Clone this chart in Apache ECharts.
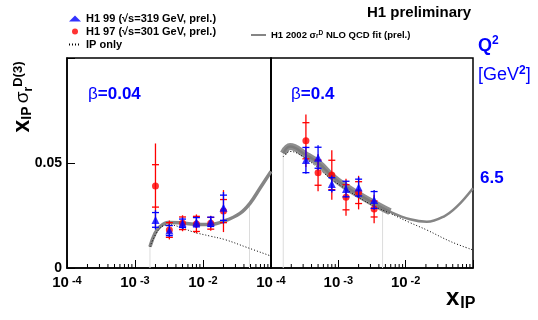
<!DOCTYPE html>
<html>
<head>
<meta charset="UTF-8">
<title>H1 sigma_r D(3)</title>
<script src="https://cdn.jsdelivr.net/npm/echarts@6/dist/echarts.min.js"></script>
<style>
html,body{margin:0;padding:0;background:#fff;}
#main{width:538px;height:320px;}
</style>
</head>
<body>
<div id="main"></div>
<script>
// beta = 0.04 panel
var xBeta004 = [0.002, 0.0032, 0.005, 0.008, 0.013, 0.02];
var h99Beta004 = [0.0229, 0.0178, 0.0213, 0.0218, 0.0220, 0.0287];
var h99Beta004Stat = [0.0035, 0.0024, 0.0020, 0.0022, 0.0022, 0.0060];
var h99Beta004Tot = [0.0046, 0.0030, 0.0028, 0.0028, 0.0028, 0.0075];
var h97Beta004 = [0.0391, 0.0181, 0.0213, 0.0210, 0.0213, 0.0271];
var h97Beta004Stat = [0.0101, 0.0035, 0.0030, 0.0036, 0.0028, 0.0055];
var h97Beta004Tot = [0.0202, 0.0045, 0.0038, 0.0045, 0.0036, 0.0100];
var fitBeta004X = [0.00166, 0.00197, 0.00233, 0.00306, 0.00459, 0.00762, 0.0127, 0.0211, 0.035, 0.0491, 0.0689, 0.1];
var fitBeta004Y = [0.0101, 0.0165, 0.0197, 0.0217, 0.0215, 0.0208, 0.0207, 0.0225, 0.026, 0.0308, 0.038, 0.046];
var ipBeta004X = [0.00166, 0.00233, 0.00326, 0.00459, 0.0071, 0.0127, 0.0211, 0.0442, 0.1];
var ipBeta004Y = [0.0101, 0.019, 0.0205, 0.0195, 0.0172, 0.0152, 0.0135, 0.0098, 0.0057];
var limBeta004X = [0.00166, 0.0483];
var limBeta004Y = [0.0101, 0.030];

// beta = 0.4 panel
var xBeta04 = [0.00033, 0.0005, 0.0008, 0.0013, 0.002, 0.0034];
var h99Beta04 = [0.0514, 0.0525, 0.0400, 0.0376, 0.0383, 0.0324];
var h99Beta04Stat = [0.0060, 0.0050, 0.0030, 0.0037, 0.0040, 0.0040];
var h99Beta04Tot = [0.0065, 0.0060, 0.0040, 0.0040, 0.0050, 0.0047];
var h97Beta04 = [0.0606, 0.0454, 0.0443, 0.0337, 0.0359, 0.0281];
var h97Beta04Stat = [0.0086, 0.0060, 0.0070, 0.0060, 0.0052, 0.0038];
var h97Beta04Tot = [0.0125, 0.0088, 0.0118, 0.0088, 0.0080, 0.0068];
var fitBeta04X = [0.000152, 0.000192, 0.000331, 0.000517, 0.000815, 0.0013, 0.00205, 0.00339, 0.00586, 0.0116, 0.0206, 0.0363, 0.0575, 0.1];
var fitBeta04Y = [0.0546, 0.0578, 0.0538, 0.0498, 0.0435, 0.0387, 0.0348, 0.0308, 0.0268, 0.0232, 0.0220, 0.0244, 0.0292, 0.038];
var ipBeta04X = [0.000152, 0.000192, 0.000331, 0.000815, 0.00205, 0.00339, 0.00586, 0.0116, 0.0206, 0.0473, 0.1];
var ipBeta04Y = [0.053, 0.0555, 0.052, 0.042, 0.0335, 0.0295, 0.026, 0.0216, 0.0181, 0.0125, 0.0086];
var limBeta04X = [0.000152, 0.00454];
var limBeta04Y = [0.0546, 0.028];

var minorTickVals = [2e-4, 3e-4, 4e-4, 5e-4, 6e-4, 7e-4, 8e-4, 9e-4,
  2e-3, 3e-3, 4e-3, 5e-3, 6e-3, 7e-3, 8e-3, 9e-3,
  2e-2, 3e-2, 4e-2, 5e-2, 6e-2, 7e-2, 8e-2, 9e-2];
var xLabelExps = [-4, -3, -2];
var yTicks = [0, 0.05];

var N99 = 'H1 99 (√s=319 GeV, prel.)';
var N97 = 'H1 97 (√s=301 GeV, prel.)';
var NIP = 'IP only';
var NFIT = 'H1 2002 fit';

var FONT = '"Liberation Sans", Arial, sans-serif';
var BLUE = '#0000ff';
var RED = '#ff0000';

function zip(a, b) {
  return a.map(function (v, i) { return [v, b[i]]; });
}
function zip4(x, y, s, t) {
  return x.map(function (v, i) { return [v, y[i], s[i], t[i]]; });
}

function errRender(color) {
  return function (params, api) {
    var x = api.value(0), y = api.value(1), s = api.value(2), t = api.value(3);
    var top = api.coord([x, y + t]), bot = api.coord([x, y - t]);
    var sTop = api.coord([x, y + s]), sBot = api.coord([x, y - s]);
    var st = { stroke: color, lineWidth: 1.3 };
    return {
      type: 'group',
      children: [
        { type: 'line', shape: { x1: top[0], y1: top[1], x2: bot[0], y2: bot[1] }, style: st },
        { type: 'line', shape: { x1: sTop[0] - 3.5, y1: sTop[1], x2: sTop[0] + 3.5, y2: sTop[1] }, style: st },
        { type: 'line', shape: { x1: sBot[0] - 3.5, y1: sBot[1], x2: sBot[0] + 3.5, y2: sBot[1] }, style: st }
      ]
    };
  };
}

function limRender(params, api) {
  var a = api.coord([api.value(0), 0]), b = api.coord([api.value(0), api.value(1)]);
  return { type: 'line', shape: { x1: a[0], y1: a[1], x2: b[0], y2: b[1] }, style: { stroke: '#dcdcdc', lineWidth: 1 } };
}

function minorRender(params, api) {
  var p = api.coord([api.value(0), 0]);
  return { type: 'line', shape: { x1: p[0], y1: p[1], x2: p[0], y2: p[1] - 4 }, style: { stroke: '#000', lineWidth: 1 } };
}

function expLabel(v) {
  var e = Math.round(Math.log10(v));
  if (xLabelExps.indexOf(e) < 0) return '';
  return '{b|10}{e|' + e + '}';
}

var xLabelRich = {
  b: { fontSize: 15, fontWeight: 'bold', fontFamily: FONT, color: '#000', lineHeight: 15, padding: [7, 0, 0, 0], verticalAlign: 'bottom' },
  e: { fontSize: 11, fontWeight: 'bold', fontFamily: FONT, color: '#000', lineHeight: 11, padding: [0, 0, 0, 3], verticalAlign: 'top' }
};

function makeX(idx) {
  return {
    type: 'log', logBase: 10, gridIndex: idx, min: 1e-4, max: 0.1,
    axisLine: { show: true, lineStyle: { color: '#000', width: 1.5 } },
    axisTick: { show: true, inside: true, length: 8, lineStyle: { color: '#000', width: 1 } },
    splitLine: { show: false },
    axisLabel: { formatter: expLabel, rich: xLabelRich, margin: 7 }
  };
}

function makeY(idx, labels) {
  return {
    type: 'value', gridIndex: idx, min: 0, max: 0.1, interval: 0.05,
    axisLine: { show: true, lineStyle: { color: '#000', width: 1.5 } },
    axisTick: { show: labels, inside: true, length: 8, lineStyle: { color: '#000', width: 1 } },
    splitLine: { show: false },
    axisLabel: {
      show: labels, margin: 5,
      fontSize: 14, fontWeight: 'bold', fontFamily: FONT, color: '#000',
      formatter: function (v) {
        if (v === yTicks[0]) return '0';
        return yTicks.indexOf(v) >= 0 ? v.toFixed(2) : '';
      }
    }
  };
}

function panelSeries(idx, d) {
  return [
    { type: 'custom', xAxisIndex: idx, yAxisIndex: idx, renderItem: limRender, data: zip(d.limX, d.limY), silent: true, z: 1 },
    { type: 'custom', xAxisIndex: idx, yAxisIndex: idx, renderItem: minorRender, data: minorTickVals.map(function (v) { return [v, 0]; }), silent: true, z: 1 },
    { name: NFIT, type: 'line', xAxisIndex: idx, yAxisIndex: idx, data: zip(d.fitX, d.fitY), smooth: 0.4, showSymbol: false, symbol: 'none',
      itemStyle: { color: '#858585' }, lineStyle: { color: '#858585', width: d.fitWidth }, z: 2 },
    d.band ? { type: 'line', xAxisIndex: idx, yAxisIndex: idx, data: zip(d.fitX.slice(0, 9), d.fitY.slice(0, 9)), smooth: 0.4, showSymbol: false, symbol: 'none',
      lineStyle: { color: '#7a7a7a', width: 7, opacity: 0.85 }, z: 2, silent: true } : null,
    { name: NIP, type: 'line', xAxisIndex: idx, yAxisIndex: idx, data: zip(d.ipX, d.ipY), smooth: 0.4, showSymbol: false, symbol: 'none',
      itemStyle: { color: '#000' }, lineStyle: { color: '#000', width: 1, type: [1, 2] }, z: 3 },
    { type: 'custom', xAxisIndex: idx, yAxisIndex: idx, renderItem: errRender(RED), data: zip4(d.x, d.r, d.rs, d.rt), silent: true, z: 4 },
    { name: N97, type: 'scatter', xAxisIndex: idx, yAxisIndex: idx, data: zip(d.x, d.r), symbol: 'circle', symbolSize: 7,
      itemStyle: { color: RED }, z: 5 },
    { type: 'custom', xAxisIndex: idx, yAxisIndex: idx, renderItem: errRender(BLUE), data: zip4(d.x, d.b, d.bs, d.bt), silent: true, z: 6 },
    { name: N99, type: 'scatter', xAxisIndex: idx, yAxisIndex: idx, data: zip(d.x, d.b), symbol: 'triangle', symbolSize: 8,
      itemStyle: { color: BLUE }, z: 7 }
  ].filter(Boolean);
}

var series = panelSeries(0, {
  x: xBeta004, b: h99Beta004, bs: h99Beta004Stat, bt: h99Beta004Tot,
  r: h97Beta004, rs: h97Beta004Stat, rt: h97Beta004Tot,
  fitX: fitBeta004X, fitY: fitBeta004Y, ipX: ipBeta004X, ipY: ipBeta004Y,
  limX: limBeta004X, limY: limBeta004Y, fitWidth: 3.5, band: false
}).concat(panelSeries(1, {
  x: xBeta04, b: h99Beta04, bs: h99Beta04Stat, bt: h99Beta04Tot,
  r: h97Beta04, rs: h97Beta04Stat, rt: h97Beta04Tot,
  fitX: fitBeta04X, fitY: fitBeta04Y, ipX: ipBeta04X, ipY: ipBeta04Y,
  limX: limBeta04X, limY: limBeta04Y, fitWidth: 2.5, band: true
}));

var chart = echarts.init(document.getElementById('main'), null, { renderer: 'canvas' });
chart.setOption({
  animation: false,
  backgroundColor: '#fff',
  grid: [
    { left: 67, top: 58, width: 204, height: 210, show: true, borderColor: '#000', borderWidth: 1.5, backgroundColor: 'transparent' },
    { left: 271, top: 58, width: 202, height: 210, show: true, borderColor: '#000', borderWidth: 1.5, backgroundColor: 'transparent' }
  ],
  xAxis: [makeX(0), makeX(1)],
  yAxis: [makeY(0, true), makeY(1, false)],
  legend: [
    {
      left: 63, top: 8, orient: 'vertical', itemGap: 2, itemWidth: 12, itemHeight: 6,
      selectedMode: false,
      data: [
        { name: N99, icon: 'triangle' },
        { name: N97, icon: 'circle' },
        { name: NIP, itemStyle: { opacity: 0 } }
      ],
      textStyle: { fontFamily: FONT, fontWeight: 'bold', fontSize: 11, color: '#000' }
    },
    {
      left: 245, top: 25, itemWidth: 15, itemHeight: 8, selectedMode: false,
      data: [{ name: NFIT, itemStyle: { opacity: 0 } }],
      formatter: function () { return 'H1 2002 {g|σ}{sub|r}{sup|D} NLO QCD fit (prel.)'; },
      textStyle: {
        fontFamily: FONT, fontWeight: 'bold', fontSize: 9.5, color: '#000',
        rich: {
          g: { fontFamily: FONT, fontSize: 9.5, color: '#000' },
          sub: { fontFamily: FONT, fontSize: 6.5, fontWeight: 'bold', color: '#000', verticalAlign: 'bottom', padding: [3, 0, 0, 0] },
          sup: { fontFamily: FONT, fontSize: 6.5, fontWeight: 'bold', color: '#000', verticalAlign: 'top', padding: [0, 0, 3, 0] }
        }
      }
    }
  ],
  graphic: [
    { type: 'text', left: 367, top: 5, style: { text: 'H1 preliminary', font: 'bold 15px ' + FONT, fill: '#000' } },
    {
      type: 'text', x: 23, y: 97, rotation: Math.PI / 2,
      style: {
        text: '{x|x}{s|IP} {g|σ}{r|r}{u|D(3)}', align: 'center', verticalAlign: 'middle',
        rich: {
          x: { fontFamily: FONT, fontWeight: 'bold', fontSize: 23, fill: '#000', lineHeight: 23 },
          s: { fontFamily: FONT, fontWeight: 'bold', fontSize: 14, fill: '#000', verticalAlign: 'bottom', padding: [6, 0, 0, 0] },
          g: { fontFamily: FONT, fontSize: 19, fill: '#000' },
          r: { fontFamily: FONT, fontWeight: 'bold', fontSize: 12, fill: '#000', verticalAlign: 'bottom', padding: [6, 0, 0, 0] },
          u: { fontFamily: FONT, fontWeight: 'bold', fontSize: 13, fill: '#000', verticalAlign: 'top', padding: [0, 0, 8, 0] }
        }
      }
    },
    {
      type: 'text', left: 446, top: 286,
      style: {
        text: '{x|x}{s|IP}',
        rich: {
          x: { fontFamily: FONT, fontWeight: 'bold', fontSize: 24, fill: '#000', lineHeight: 24 },
          s: { fontFamily: FONT, fontWeight: 'bold', fontSize: 16, fill: '#000', verticalAlign: 'bottom', padding: [11, 0, 0, 1] }
        }
      }
    },
    {
      type: 'text', left: 478, top: 33,
      style: {
        text: '{q|Q}{s|2}',
        rich: {
          q: { fontFamily: FONT, fontWeight: 'bold', fontSize: 18, fill: BLUE, lineHeight: 20, verticalAlign: 'bottom', padding: [4, 0, 0, 0] },
          s: { fontFamily: FONT, fontWeight: 'bold', fontSize: 12, fill: BLUE, verticalAlign: 'top' }
        }
      }
    },
    {
      type: 'text', left: 478, top: 62,
      style: {
        text: '{g|[GeV}{s|2}{g|]}',
        rich: {
          g: { fontFamily: FONT, fontSize: 18, fill: BLUE, lineHeight: 19, verticalAlign: 'bottom', padding: [4, 0, 0, 0] },
          s: { fontFamily: FONT, fontWeight: 'bold', fontSize: 12, fill: BLUE, verticalAlign: 'top' }
        }
      }
    },
    { type: 'text', left: 480, top: 170, style: { text: '6.5', font: 'bold 17px ' + FONT, fill: BLUE } },
    {
      type: 'text', left: 88, top: 86,
      style: { text: '{b|β}{t|=0.04}', rich: { b: { fontFamily: FONT, fontSize: 17, fill: BLUE }, t: { fontFamily: FONT, fontWeight: 'bold', fontSize: 17, fill: BLUE } } }
    },
    {
      type: 'text', left: 291, top: 86,
      style: { text: '{b|β}{t|=0.4}', rich: { b: { fontFamily: FONT, fontSize: 17, fill: BLUE }, t: { fontFamily: FONT, fontWeight: 'bold', fontSize: 17, fill: BLUE } } }
    }
  ],
  series: series
});
</script>
</body>
</html>
